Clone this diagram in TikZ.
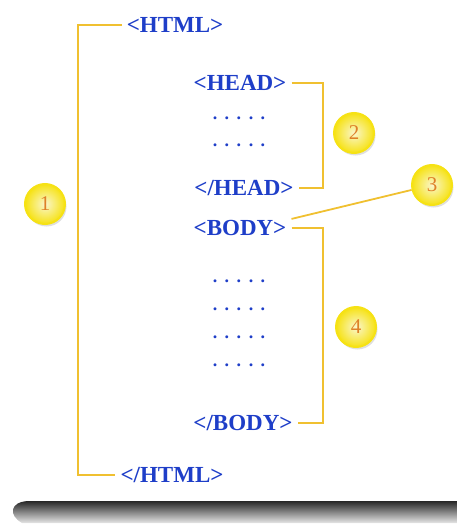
\documentclass[tikz,border=0pt]{standalone}
\usepackage{fontspec}
\setmainfont{Liberation Serif}
\usetikzlibrary{shadows}

\definecolor{tagblue}{RGB}{30,62,200}
\definecolor{linegold}{RGB}{240,192,48}
\definecolor{numorange}{RGB}{222,128,40}
\definecolor{ballrim}{RGB}{246,226,20}
\definecolor{ballcore}{RGB}{250,246,205}

\newcommand{\dotline}{.\hskip7.5pt.\hskip7.5pt.\hskip7.5pt.\hskip7.5pt.}

\tikzset{
  tag/.style={font=\fontsize{23}{23}\selectfont\bfseries, text=tagblue, inner sep=5pt},
  dots/.style={font=\fontsize{18}{18}\selectfont\bfseries, text=tagblue, inner sep=0pt},
  bracket/.style={draw=linegold, line width=2.2pt},
  num/.style={circle, minimum size=40pt, inner sep=0pt, draw=ballrim, line width=2pt,
    inner color=ballcore, outer color=ballrim, text=numorange,
    font=\fontsize{21}{21}\selectfont,
    drop shadow={opacity=0.25, shadow xshift=1.5pt, shadow yshift=-2.5pt}}
}

\begin{document}
\begin{tikzpicture}[x=1pt, y=-1pt]
		\useasboundingbox (0,0) rectangle (457,524);
		% tags
		\node[tag] (html) at (175, 25) {<HTML>};
		\node[tag] (head) at (240, 83) {<HEAD>};
		\node[dots] (hd1) at (239,118) {\dotline};
		\node[dots] (hd2) at (239,145) {\dotline};
		\node[tag] (chead) at (244,188) {</HEAD>};
		\node[tag] (body) at (240,228) {<BODY>};
		\node[dots] (bd1) at (239,281) {\dotline};
		\node[dots] (bd2) at (239,309) {\dotline};
		\node[dots] (bd3) at (239,337) {\dotline};
		\node[dots] (bd4) at (239,365) {\dotline};
		\node[tag] (cbody) at (243,423) {</BODY>};
		\node[tag] (chtml) at (172,475) {</HTML>};
		% numbers
		\node[num] (n1) at (45,204) {1};
		\node[num] (n2) at (354,133) {2};
		\node[num] (n3) at (432,185) {3};
		\node[num] (n4) at (356,327) {4};
		% brackets
		\coordinate (l1) at (78,0);
		\coordinate (r2) at (323,0);
                \draw[bracket] (html.west) -- (html.west -| l1) -- (chtml.west -| l1) -- (chtml.west);
                \draw[bracket] (head.east) -- (head.east -| r2) -- (chead.east -| r2) -- (chead.east);
                \draw[bracket] (body.east) -- (body.east -| r2) -- (cbody.east -| r2) -- (cbody.east);
                \draw[bracket, line width=1.8pt] (body.10) -- (n3);
		% shadow bar
		\shade[top color=black!85, bottom color=black!10]
		  (457,501) -- (28,501) .. controls (10,502) and (8,515) .. (22,523) -- (457,523) -- cycle;
		\end{tikzpicture}
\end{document}
